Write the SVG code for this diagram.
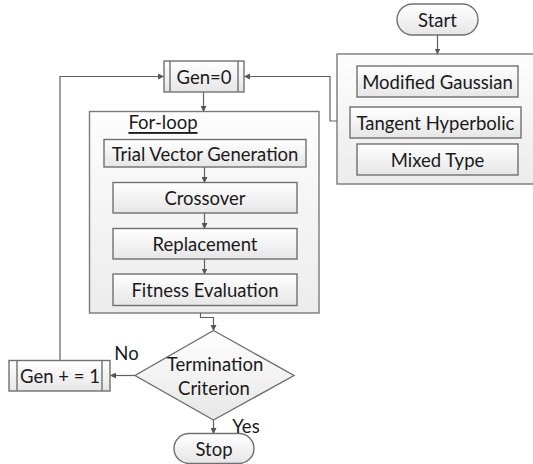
<svg xmlns="http://www.w3.org/2000/svg" width="533" height="464" viewBox="0 0 533 464">
<defs>
<linearGradient id="g" x1="0" y1="0" x2="0" y2="1"><stop offset="0" stop-color="#ffffff"/><stop offset="1" stop-color="#e6e6e6"/></linearGradient>
<linearGradient id="go" x1="0" y1="0" x2="0" y2="1"><stop offset="0" stop-color="#fdfdfd"/><stop offset="1" stop-color="#ececec"/></linearGradient>
<marker id="a" markerWidth="6" markerHeight="6" refX="5" refY="3" orient="auto" markerUnits="userSpaceOnUse"><path d="M0,0 L6,3 L0,6 z" fill="#555"/></marker>
</defs>
<style>
.b{fill:url(#g);stroke:#707070;stroke-width:1.4}
.o{fill:url(#go);stroke:#7a7a7a;stroke-width:1.4}
.l{fill:none;stroke:#707070;stroke-width:1.4}
.c{fill:none;stroke:#606060;stroke-width:1.2}
text{font-family:Lato,"Liberation Sans",Arial,sans-serif;font-size:18.5px;fill:#1a1a1a;text-anchor:middle;dominant-baseline:central}
</style>
<g id="start"><rect class="b" x="397" y="4" width="81" height="31" rx="15.5"/><text x="437.5" y="20">Start</text></g>
<g id="kernels"><rect class="o" x="337" y="54" width="200" height="130"/></g>
<g id="modgauss"><rect class="b" x="357" y="66" width="161" height="31"/><text x="437.5" y="81.5">Modified Gaussian</text></g>
<g id="tanh"><rect class="b" x="350" y="107" width="171" height="31"/><text x="435.5" y="122.5">Tangent Hyperbolic</text></g>
<g id="mixed"><rect class="b" x="357" y="144" width="161" height="31"/><text x="437.5" y="159.5">Mixed Type</text></g>
<g id="gen0"><rect class="b" x="164" y="61" width="80" height="31"/><path class="l" d="M170,61V92M238,61V92"/><text x="204" y="76.5">Gen=0</text></g>
<g id="forloop"><rect class="o" x="89.5" y="111.5" width="229.5" height="201.5"/><text x="163" y="122" text-decoration="underline">For-loop</text></g>
<g id="trial"><rect class="b" x="104" y="139.5" width="202" height="27.5"/><text x="205" y="153.5">Trial Vector Generation</text></g>
<g id="crossover"><rect class="b" x="113" y="182.5" width="184" height="30.5"/><text x="205" y="198">Crossover</text></g>
<g id="replacement"><rect class="b" x="113" y="228.5" width="184" height="30.5"/><text x="205" y="244">Replacement</text></g>
<g id="fitness"><rect class="b" x="113" y="274" width="184" height="31.5"/><text x="205" y="290">Fitness Evaluation</text></g>
<g id="termination"><path class="b" d="M213.5,330.5 L294,375.5 L213.5,420 L135,375.5 z"/><text x="215" y="363.5">Termination</text><text x="214" y="387.5">Criterion</text></g>
<g id="geninc"><rect class="b" x="9" y="360.5" width="101" height="30.5"/><path class="l" d="M17,360.5V391M102,360.5V391"/><text x="60" y="376">Gen + = 1</text></g>
<g id="stop"><rect class="b" x="174" y="433.5" width="80" height="30" rx="15"/><text x="214" y="449">Stop</text></g>
<g id="connectors">
<path class="c" d="M437.5,35V53.5" marker-end="url(#a)"/>
<path class="c" d="M337,121H330V76.5H245" marker-end="url(#a)"/>
<path class="c" d="M60,360.5V76.5H163" marker-end="url(#a)"/>
<path class="c" d="M203.5,92V111" marker-end="url(#a)"/>
<path class="c" d="M204.5,167V182" marker-end="url(#a)"/>
<path class="c" d="M204.5,213V228" marker-end="url(#a)"/>
<path class="c" d="M204.5,259V273.5" marker-end="url(#a)"/>
<path class="c" d="M200.5,313V317.5H213.5V330" marker-end="url(#a)"/>
<path class="c" d="M135,375.5H111" marker-end="url(#a)"/>
<path class="c" d="M213.5,420V433" marker-end="url(#a)"/>
<text x="126.5" y="352.5">No</text>
<text x="246" y="425.5">Yes</text>
</g>
</svg>
